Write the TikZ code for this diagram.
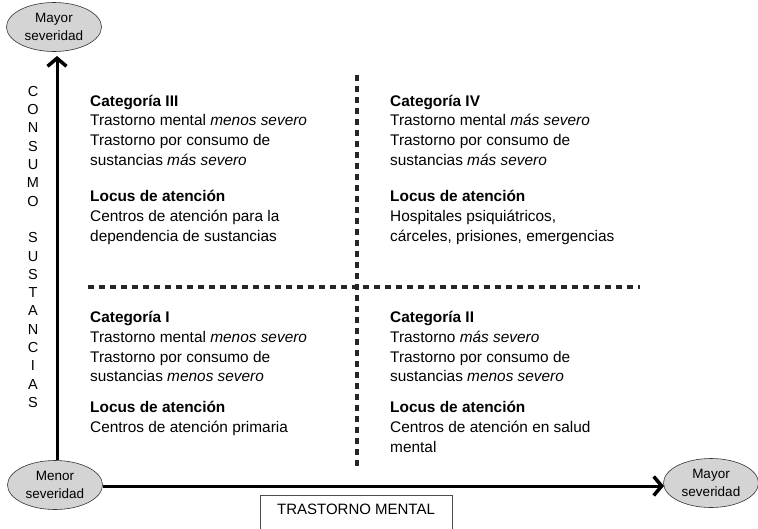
\documentclass[tikz,border=0pt]{standalone}
\usepackage{fontspec}
\setmainfont{Liberation Sans}
\usetikzlibrary{arrows.meta,positioning,shapes.geometric}
\def\colleft{90}
\def\colright{390}
\def\axiswidth{3pt}

\begin{document}
\begin{tikzpicture}[x=1pt,y=-1pt,
    axis/.style={draw=black,line width=\axiswidth,-{Straight Barb[length=8pt,width=19pt,line width=3.5pt]}},
    split/.style={draw=black!85,line width=3.5pt,dash pattern=on 6pt off 5pt},
    inner sep=0pt]
    \tikzstyle{pole}=[ellipse,draw=black!80,fill=black!17,line width=0.6pt,minimum width=95pt,minimum height=49pt,align=center,font=\fontsize{13.5}{18}\selectfont]
    \tikzstyle{block}=[anchor=north west,align=left,font=\fontsize{15.4}{19.8}\selectfont]
    \useasboundingbox (0,0) rectangle (758,528);

    % poles of the two axes
    \node[pole] (top) at (54,27) {Mayor\\severidad};
    \node[pole] (origin) at (55,485) {Menor\\severidad};
    \node[pole] (right) at (711,483) {Mayor\\severidad};

    % axes
    \draw[axis] (origin.north -| 57,0) -- (57,56) coordinate (ytip);
    \draw[axis] (origin.east |- 0,486) -- (664,486) coordinate (xtip);

    % axis labels
    \node[align=center,font=\fontsize{14.5}{18.3}\selectfont,anchor=north] (ylabel) at (33,86)
        {C\\O\\N\\S\\U\\M\\O\\[18.3pt]S\\U\\S\\T\\A\\N\\C\\I\\A\\S};
    \draw[black!70,line width=0.8pt] (260,540) -- (260,495.5) -- (452,495.5) -- (452,540);
    \node[font=\fontsize{15}{18}\selectfont] (xlabel) at (356,509) {TRASTORNO MENTAL};

    % quadrant dividers
    \draw[split] (357,75) coordinate (vtop) -- (357,466) coordinate (vbot);
    \draw[split] (88,287) coordinate (hleft) -- (640,287) coordinate (hright);

    % Draw the upper quadrants
    \node[block] (cat3) at (\colleft,94.6) {\textbf{Categoría III}\\Trastorno mental \emph{menos severo}\\Trastorno por consumo de\\sustancias \emph{más severo}};
    \node[block] (loc3) at (\colleft,190) {\textbf{Locus de atención}\\Centros de atención para la\\dependencia de sustancias};
    \node[block] (cat4) at (\colright,94.6) {\textbf{Categoría IV}\\Trastorno mental \emph{más severo}\\Trastorno por consumo de\\sustancias \emph{más severo}};
    \node[block] (loc4) at (\colright,190) {\textbf{Locus de atención}\\Hospitales psiquiátricos,\\cárceles, prisiones, emergencias};

    % Draw the lower quadrants
    \node[block] (cat1) at (\colleft,311) {\textbf{Categoría I}\\Trastorno mental \emph{menos severo}\\Trastorno por consumo de\\sustancias \emph{menos severo}};
    \node[block] (loc1) at (\colleft,401) {\textbf{Locus de atención}\\Centros de atención primaria};
    \node[block] (cat2) at (\colright,311) {\textbf{Categoría II}\\Trastorno \emph{más severo}\\Trastorno por consumo de\\sustancias \emph{menos severo}};
    \node[block] (loc2) at (\colright,401) {\textbf{Locus de atención}\\Centros de atención en salud\\mental};
\end{tikzpicture}
\end{document}
